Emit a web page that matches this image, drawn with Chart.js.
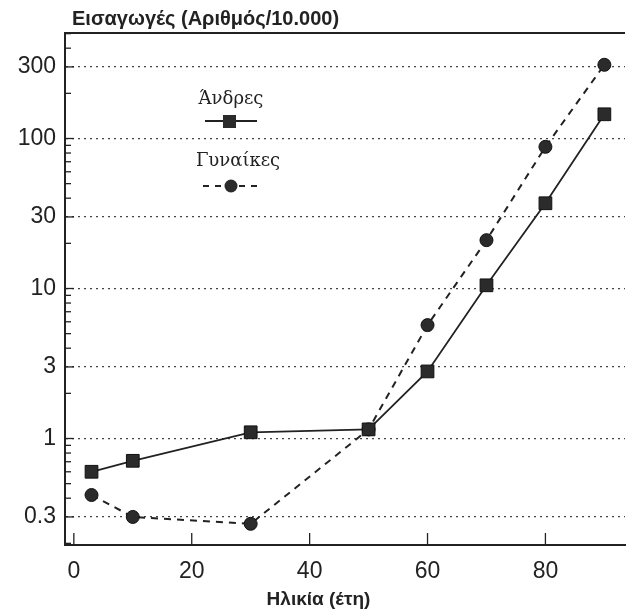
<!DOCTYPE html>
<html>
<head>
<meta charset="utf-8">
<script src="https://cdn.jsdelivr.net/npm/chart.js@4/dist/chart.umd.min.js"></script>
<style>
  html, body { margin: 0; padding: 0; background: #fff; }
  #wrap { width: 635px; height: 611px; position: relative; }
</style>
</head>
<body>
<div id="wrap"><canvas id="chart"></canvas></div>
<script>
// Age (years) for each point
const ages = [3, 10, 30, 50, 60, 70, 80, 90];
// Admissions per 10.000
const men = [0.6, 0.71, 1.1, 1.15, 2.8, 10.5, 37, 145];
const women = [0.42, 0.3, 0.27, 1.15, 5.7, 21, 88, 310];

const yMajorTicks = [0.3, 1, 3, 10, 30, 100, 300];
const xTicks = [0, 20, 40, 60, 80];

const yTitle = "Εισαγωγές (Αριθμός/10.000)";
const xTitle = "Ηλικία (έτη)";
const legendLabels = ["Άνδρες", "Γυναίκες"];

const ink = "#222";
const sans = "'Liberation Sans', Arial, sans-serif";

function toPoints(ys) {
  return ages.map((a, i) => ({ x: a, y: ys[i] }));
}

// minor log ticks 2..9 for each decade
function logTicks(min, max) {
  let out = [];
  for (let d = 0.1; d <= 1000; d *= 10) {
    for (let m = 1; m < 10; m++) {
      let v = +(d * m).toPrecision(3);
      if (v >= min && v <= max) out.push(v);
    }
  }
  yMajorTicks.forEach(v => { if (out.indexOf(v) < 0) out.push(v); });
  return out.sort((a, b) => a - b);
}

function isMajor(v) {
  return yMajorTicks.some(t => Math.abs(t - v) < 1e-9);
}

// frame, inner ticks, titles and legend
const decorations = {
  id: "decorations",
  afterDraw(chart) {
    const { ctx, chartArea, scales } = chart;
    const x = scales.x, y = scales.y;
    ctx.save();
    ctx.strokeStyle = ink;

    // top frame line
    ctx.lineWidth = 2;
    ctx.beginPath();
    ctx.moveTo(chartArea.left, chartArea.top);
    ctx.lineTo(chartArea.right, chartArea.top);
    ctx.stroke();

    // inner tick marks on y axis
    ctx.lineWidth = 1.3;
    y.ticks.forEach(t => {
      const py = y.getPixelForValue(t.value);
      const len = isMajor(t.value) ? 9 : 6;
      ctx.beginPath();
      ctx.moveTo(chartArea.left, py);
      ctx.lineTo(chartArea.left + len, py);
      ctx.stroke();
    });
    // inner tick marks on x axis
    xTicks.forEach(v => {
      const px = x.getPixelForValue(v);
      ctx.beginPath();
      ctx.moveTo(px, chartArea.bottom);
      ctx.lineTo(px, chartArea.bottom - 12);
      ctx.stroke();
    });

    // axis titles
    ctx.fillStyle = ink;
    ctx.font = "bold 20px " + sans;
    ctx.textAlign = "left";
    ctx.textBaseline = "alphabetic";
    ctx.fillText(yTitle, chartArea.left + 7, 25);

    ctx.font = "bold 19px " + sans;
    ctx.textAlign = "center";
    ctx.fillText(xTitle, x.getPixelForValue(41.5), 605);

    // legend
    ctx.font = "18px 'DejaVu Serif', 'Liberation Serif', serif";
    ctx.fillText(legendLabels[0], 231, 104);
    ctx.fillText(legendLabels[1], 238, 166);

    ctx.lineWidth = 1.8;
    ctx.beginPath();
    ctx.moveTo(205, 121);
    ctx.lineTo(257, 121);
    ctx.stroke();
    ctx.fillStyle = "#2b2b2b";
    ctx.fillRect(223, 115, 13, 13);

    ctx.lineWidth = 2;
    ctx.setLineDash([6, 6]);
    ctx.beginPath();
    ctx.moveTo(203, 186);
    ctx.lineTo(258, 186);
    ctx.stroke();
    ctx.setLineDash([]);
    ctx.beginPath();
    ctx.arc(231, 186, 6.5, 0, Math.PI * 2);
    ctx.fill();

    ctx.restore();
  },
};

new Chart(document.getElementById("chart"), {
  type: "line",
  data: {
    datasets: [
      {
        label: legendLabels[0],
        data: toPoints(men),
        borderColor: ink,
        borderWidth: 1.8,
        pointStyle: "rect",
        pointRadius: 9,
        pointBackgroundColor: "#2b2b2b",
        pointBorderColor: "#111",
        pointBorderWidth: 1,
        tension: 0,
      },
      {
        label: legendLabels[1],
        data: toPoints(women),
        borderColor: ink,
        borderWidth: 2,
        borderDash: [7, 6],
        pointStyle: "circle",
        pointRadius: 6.5,
        pointBackgroundColor: "#2b2b2b",
        pointBorderColor: "#111",
        pointBorderWidth: 1,
        tension: 0,
      },
    ],
  },
  options: {
    responsive: true,
    maintainAspectRatio: false,
    animation: false,
    layout: { padding: { top: 33, right: 0, left: 0, bottom: 0 } },
    plugins: {
      legend: { display: false },
      tooltip: { enabled: false },
    },
    scales: {
      x: {
        type: "linear",
        min: -1.5,
        max: 93.5,
        afterBuildTicks: (scale) => {
          scale.ticks = xTicks.map(v => ({ value: v }));
        },
        afterFit: (scale) => { scale.height = 66; },
        grid: { display: false, drawTicks: false },
        border: { display: true, color: ink, width: 2 },
        ticks: {
          color: ink,
          padding: 13,
          maxRotation: 0,
          font: { family: sans, size: 23 },
        },
      },
      y: {
        type: "logarithmic",
        min: 0.195,
        max: 505,
        afterBuildTicks: (scale) => {
          scale.ticks = logTicks(0.195, 505).map(v => ({ value: v }));
        },
        afterFit: (scale) => { scale.width = 65; },
        grid: {
          drawTicks: false,
          color: (c) => (c.tick && isMajor(c.tick.value) ? "#444" : "rgba(0,0,0,0)"),
          lineWidth: 1.2,
        },
        border: { display: true, color: ink, width: 2, dash: [2, 4] },
        ticks: {
          color: ink,
          padding: 9,
          autoSkip: false,
          font: { family: sans, size: 23 },
          callback: (v) => (isMajor(v) ? String(v) : ""),
        },
      },
    },
  },
  plugins: [decorations],
});
</script>
</body>
</html>
